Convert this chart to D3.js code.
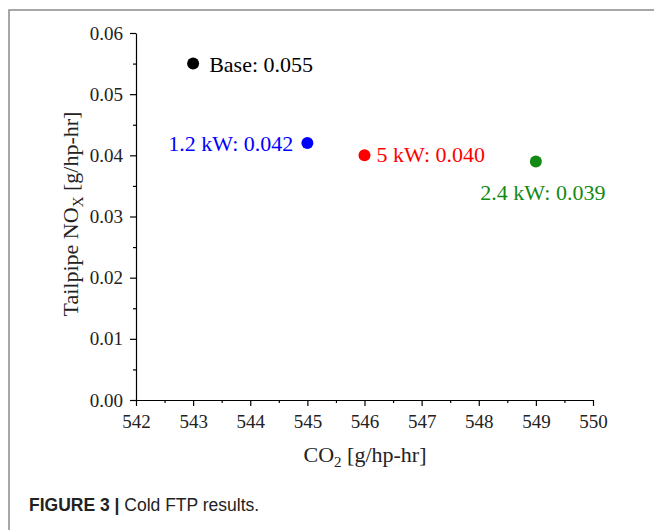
<!DOCTYPE html>
<html>
<head>
<meta charset="utf-8">
<script src="https://cdn.jsdelivr.net/npm/d3@7"></script>
<style>
html,body{margin:0;padding:0;background:#fff;}
svg{display:block;}
.tick text{font-family:'Liberation Serif','Times New Roman',serif;font-size:19px;fill:#222;}
</style>
</head>
<body>
<svg id="chart" width="654" height="530"></svg>
<script>
// Data
const labels = ["Base", "1.2 kW", "5 kW", "2.4 kW"];
const co2 = [543, 545, 546, 549];
const nox = [0.055, 0.042, 0.040, 0.039];
const colors = ["#000000", "#0000ff", "#ff0000", "#138a13"];
const xTicks = [542, 543, 544, 545, 546, 547, 548, 549, 550];
const yTicks = [0.00, 0.01, 0.02, 0.03, 0.04, 0.05, 0.06];
const xMinor = [542.5, 543.5, 544.5, 545.5, 546.5, 547.5, 548.5, 549.5];
const yMinor = [0.005, 0.015, 0.025, 0.035, 0.045, 0.055];

const svg = d3.select("#chart");
svg.append("rect").attr("width", 654).attr("height", 530).attr("fill", "#fff");

// frame
svg.append("path").attr("d", "M9,530 V10 H654").attr("fill", "none")
  .attr("stroke", "#8a8a8a").attr("stroke-width", 1.5);

const x = d3.scaleLinear().domain([542, 550]).range([136, 593]);
const y = d3.scaleLinear().domain([0, 0.06]).range([400, 33]);

const serif = "'Liberation Serif','Times New Roman',serif";

// x axis
const gx = svg.append("g").attr("transform", "translate(0,400)");
gx.call(d3.axisBottom(x).tickValues(xTicks).tickFormat(d3.format("d")).tickSize(6).tickSizeOuter(0).tickPadding(4));
gx.append("g").call(d3.axisBottom(x).tickValues(xMinor).tickFormat("").tickSize(3).tickSizeOuter(0))
  .select(".domain").remove();

// y axis
const gy = svg.append("g").attr("transform", "translate(136,0)");
gy.call(d3.axisLeft(y).tickValues(yTicks).tickFormat(d3.format(".2f")).tickSize(6).tickSizeOuter(0).tickPadding(7));
gy.append("g").call(d3.axisLeft(y).tickValues(yMinor).tickFormat("").tickSize(3).tickSizeOuter(0))
  .select(".domain").remove();

svg.selectAll(".domain, .tick line").attr("stroke", "#000").attr("stroke-width", 1.2);
gx.attr("font-family", serif).attr("font-size", 19);
gy.attr("font-family", serif).attr("font-size", 19);
svg.selectAll(".tick text").style("font-family", serif).style("font-size", "19px").attr("fill", "#222");
gx.selectAll(".tick text").attr("dy", "0.95em");

// axis titles
const xt = svg.append("text").attr("x", 365).attr("y", 462).attr("text-anchor", "middle")
  .attr("font-family", serif).attr("font-size", 22).attr("fill", "#222");
xt.append("tspan").text("CO");
xt.append("tspan").attr("font-size", 15).attr("dy", 5).text("2");
xt.append("tspan").attr("dy", -5).text(" [g/hp-hr]");

const yt = svg.append("text").attr("transform", "translate(78,214) rotate(-90)").attr("text-anchor", "middle")
  .attr("font-family", serif).attr("font-size", 22).attr("fill", "#222");
yt.append("tspan").text("Tailpipe NO");
yt.append("tspan").attr("font-size", 15).attr("dy", 5).text("X");
yt.append("tspan").attr("dy", -5).text(" [g/hp-hr]");

// points
svg.selectAll("circle.pt").data(co2).enter().append("circle").attr("class", "pt")
  .attr("cx", d => x(d)).attr("cy", (d, i) => y(nox[i])).attr("r", 6)
  .attr("fill", (d, i) => colors[i]);

// annotations
const ann = [
  {dx: 16, dy: 8, anchor: "start"},
  {dx: -14, dy: 8, anchor: "end"},
  {dx: 12, dy: 7, anchor: "start"},
  {dx: 7, dy: 39, anchor: "middle"}
];
svg.selectAll("text.ann").data(co2).enter().append("text").attr("class", "ann")
  .attr("x", (d, i) => x(d) + ann[i].dx).attr("y", (d, i) => y(nox[i]) + ann[i].dy)
  .attr("text-anchor", (d, i) => ann[i].anchor)
  .attr("font-family", serif).attr("font-size", 22).attr("fill", (d, i) => colors[i])
  .text((d, i) => labels[i] + ": " + nox[i].toFixed(3));

// caption
const cap = svg.append("text").attr("x", 29).attr("y", 511)
  .attr("font-family", "'Liberation Sans',Arial,sans-serif").attr("font-size", 17.5).attr("fill", "#222");
cap.append("tspan").attr("font-weight", "bold").text("FIGURE 3 | ");
cap.append("tspan").text("Cold FTP results.");
</script>
</body>
</html>
